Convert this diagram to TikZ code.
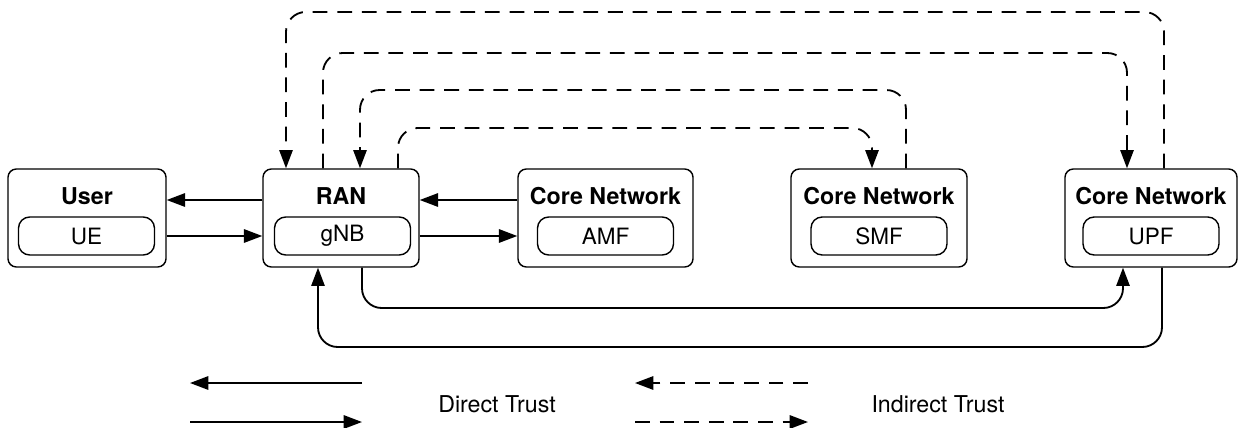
\documentclass[tikz,border=0pt]{standalone}
\usepackage{fontspec}
\setmainfont{TeX Gyre Heros}
\usetikzlibrary{arrows.meta,calc}

\tikzset{
  box/.style={draw, line width=1pt, rounded corners=6pt, minimum height=2.45cm, inner sep=0pt},
  subbox/.style={draw, line width=1pt, rounded corners=8pt, minimum width=3.4cm, minimum height=0.95cm, inner sep=0pt, font=\fontsize{16}{18}\selectfont},
  head/.style={font=\fontsize{16.5}{18}\selectfont\bfseries, inner sep=0pt},
  legendtext/.style={font=\fontsize{16.5}{18}\selectfont, inner sep=0pt},
  direct/.style={line width=1.3pt, -{Triangle[length=13pt,width=9.5pt]}, rounded corners=14pt},
  indirect/.style={direct, dash pattern=on 10.5pt off 7pt},
}

\begin{document}
\begin{tikzpicture}[x=0.025cm,y=-0.025cm]
\useasboundingbox (0,0) rectangle (1239,428);

% outer boxes
\node[box, minimum width=3.95cm] (user) at (87,218) {};
\node[box, minimum width=3.9cm] (ran) at (341,218) {};
\node[box, minimum width=4.375cm] (amf) at (605.5,218) {};
\node[box, minimum width=4.4cm] (smf) at (879,218) {};
\node[box, minimum width=4.3cm] (upf) at (1151,218) {};

% titles
\node[head] (userh) at (87,196) {User};
\node[head] (ranh) at (341,196) {RAN};
\node[head] (amfh) at (605.5,196) {Core Network};
\node[head] (smfh) at (879,196) {Core Network};
\node[head] (upfh) at (1151,196) {Core Network};

% functions
\node[subbox] (ue) at (86.5,236) {UE};
\node[subbox] (gnb) at (342.5,236) {gNB};
\node[subbox] (amfin) at (605.5,236) {AMF};
\node[subbox] (smfin) at (879,236) {SMF};
\node[subbox] (upfin) at (1151,236) {UPF};

% direct trust
\draw[direct] ($(ran.west)+(0,-18)$) -- ($(user.east)+(0,-18)$);
\draw[direct] ($(user.east)+(0,18)$) -- ($(ran.west)+(0,18)$);
\draw[direct] ($(amf.west)+(0,-18)$) -- ($(ran.east)+(0,-18)$);
\draw[direct] ($(ran.east)+(0,18)$) -- ($(amf.west)+(0,18)$);
\draw[direct] ($(ran.south)+(21,0)$) |- (760,308) -| ($(upf.south)+(-28,0)$);
\draw[direct] ($(upf.south)+(11,0)$) |- (760,347) -| ($(ran.south)+(-23,0)$);

% indirect trust
\draw[indirect] ($(upf.north)+(13,0)$) |- (700,12) -| ($(ran.north)+(-55,0)$);
\draw[indirect] ($(ran.north)+(-18,0)$) |- (700,53) -| ($(upf.north)+(-24,0)$);
\draw[indirect] ($(smf.north)+(27,0)$) |- (600,90) -| ($(ran.north)+(19,0)$);
\draw[indirect] ($(ran.north)+(57,0)$) |- (600,128) -| ($(smf.north)+(-7,0)$);

% legend
\coordinate (d1a) at (362,383);
\coordinate (d1b) at (190,383);
\coordinate (d2a) at (190,422);
\coordinate (d2b) at (362,422);
\coordinate (i1a) at (808,383);
\coordinate (i1b) at (635,383);
\coordinate (i2a) at (635,422);
\coordinate (i2b) at (808,422);
\draw[direct] (d1a) -- (d1b);
\draw[direct] (d2a) -- (d2b);
\draw[indirect] (i1a) -- (i1b);
\draw[indirect] (i2a) -- (i2b);
\node[legendtext] (dlabel) at (497,404) {Direct Trust};
\node[legendtext] (ilabel) at (938,404) {Indirect Trust};

\end{tikzpicture}
\end{document}
